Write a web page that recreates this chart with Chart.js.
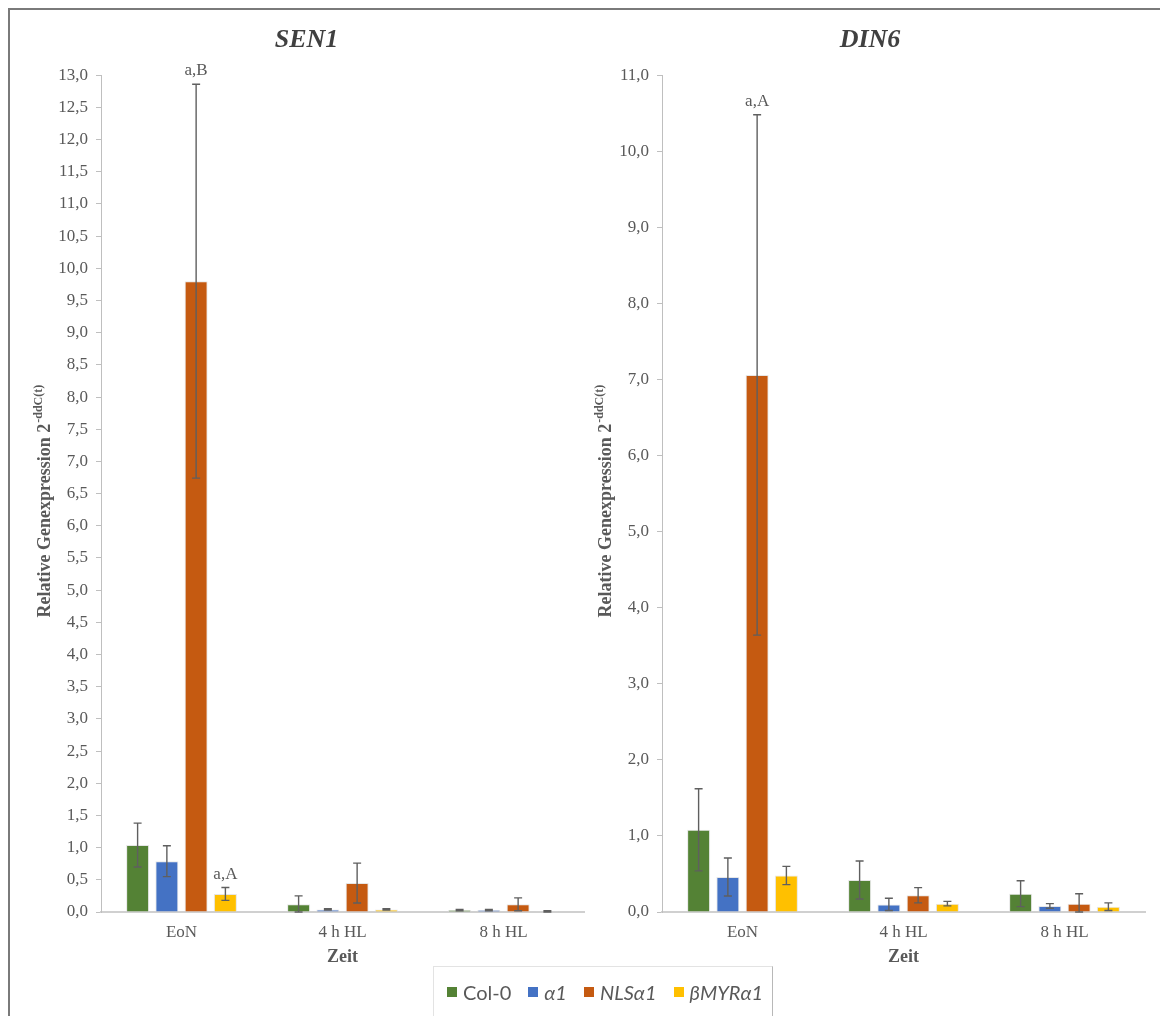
<!DOCTYPE html>
<html lang="de">
<head>
  <meta charset="UTF-8">
  <title>SEN1 / DIN6</title>
  <style>
    body {
      margin: 0;
      background: #fff;
      width: 1160px;
      height: 1016px;
      overflow: hidden;
      position: relative;
      font-family: 'Liberation Serif', serif;
    }

    /* marco exterior, cortado a la derecha y abajo */
    .frame {
      position: absolute;
      left: 8px;
      top: 8px;
      width: 1200px;
      height: 1100px;
      border: 2px solid #7a7a7a;
    }

    .chart-box {
      position: absolute;
      top: 10px;
      height: 970px;
    }

    #boxSen { left: 10px; width: 590px; }
    #boxDin { left: 575px; width: 585px; }

    .legend {
      position: absolute;
      left: 433px;
      top: 966px;
      width: 340px;
      height: 60px;
      border: 1px solid #e3e3e3;
      border-right-color: #b8b8b8;
      box-sizing: border-box;
      display: flex;
      align-items: flex-start;
      padding: 13px 0 0 13px;
      gap: 17px;
      font-family: Lato, 'Liberation Sans', sans-serif;
      font-size: 20px;
      color: #595959;
    }

    .legend span.item { display: flex; align-items: center; }
    .legend span.sw { width: 10px; height: 10px; margin-right: 6px; display: inline-block; }
  </style>
</head>

<body>
  <div class="frame"></div>
  <div class="chart-box" id="boxSen"><canvas id="senChart"></canvas></div>
  <div class="chart-box" id="boxDin"><canvas id="dinChart"></canvas></div>
  <div class="legend" id="legend"></div>

  <script src="https://cdn.jsdelivr.net/npm/chart.js@4"></script>
  <script>
    // ==== Datos ====
    const categories = ['EoN', '4 h HL', '8 h HL'];
    const seriesNames = ['Col-0', 'α1', 'NLSα1', 'βMYRα1'];
    const seriesItalic = [false, true, true, true];
    const seriesColors = ['#548235', '#4472C4', '#C55A11', '#FFC000'];

    // SEN1
    const sen1Col0 = [1.04, 0.12, 0.03];
    const sen1Alpha1 = [0.79, 0.04, 0.03];
    const sen1Nls = [9.80, 0.45, 0.12];
    const sen1Myr = [0.28, 0.04, 0.01];
    const sen1Col0Err = [0.34, 0.13, 0.01];
    const sen1Alpha1Err = [0.24, 0.01, 0.01];
    const sen1NlsErr = [3.06, 0.31, 0.10];
    const sen1MyrErr = [0.10, 0.01, 0.01];
    const sen1LetterText = ['a,B', 'a,A'];
    const sen1LetterSeries = [2, 3];
    const sen1LetterCat = [0, 0];

    // DIN6
    const din6Col0 = [1.08, 0.42, 0.24];
    const din6Alpha1 = [0.46, 0.10, 0.08];
    const din6Nls = [7.06, 0.22, 0.11];
    const din6Myr = [0.48, 0.11, 0.07];
    const din6Col0Err = [0.54, 0.25, 0.17];
    const din6Alpha1Err = [0.25, 0.08, 0.03];
    const din6NlsErr = [3.42, 0.10, 0.13];
    const din6MyrErr = [0.12, 0.03, 0.05];
    const din6LetterText = ['a,A'];
    const din6LetterSeries = [2];
    const din6LetterCat = [0];

    const textGray = '#595959';
    const serif = "'Liberation Serif', serif";

    // ==== Plugin: barras de error + letras ====
    const errorBarsPlugin = {
      id: 'errorBars',
      afterDatasetsDraw(chart, args, opts) {
        const ctx = chart.ctx;
        const y = chart.scales.y;
        ctx.save();
        ctx.strokeStyle = '#5f5f5f';
        ctx.lineWidth = 1.4;
        const tops = [];
        opts.errors.forEach((errs, i) => {
          tops[i] = [];
          const meta = chart.getDatasetMeta(i);
          meta.data.forEach((bar, j) => {
            const v = chart.data.datasets[i].data[j];
            const yt = y.getPixelForValue(v + errs[j]);
            const yb = y.getPixelForValue(Math.max(0, v - errs[j]));
            tops[i][j] = yt;
            ctx.beginPath();
            ctx.moveTo(bar.x, yt); ctx.lineTo(bar.x, yb);
            ctx.moveTo(bar.x - 4, yt); ctx.lineTo(bar.x + 4, yt);
            ctx.moveTo(bar.x - 4, yb); ctx.lineTo(bar.x + 4, yb);
            ctx.stroke();
          });
        });
        ctx.fillStyle = textGray;
        ctx.font = '17px ' + serif;
        ctx.textAlign = 'center';
        ctx.textBaseline = 'bottom';
        opts.letterText.forEach((t, k) => {
          const s = opts.letterSeries[k], c = opts.letterCat[k];
          const bar = chart.getDatasetMeta(s).data[c];
          ctx.fillText(t, bar.x, tops[s][c] - 5);
        });
        ctx.restore();
      }
    };

    // ==== Plugin: título del eje Y con superíndice ====
    const yTitlePlugin = {
      id: 'yTitle',
      afterDraw(chart) {
        const ctx = chart.ctx;
        const area = chart.chartArea;
        const cx = area.left - 56;
        const cy = (area.top + area.bottom) / 2 + 8;
        const main = 'Relative Genexpression 2';
        const sup = '-ddC(t)';
        ctx.save();
        ctx.fillStyle = textGray;
        ctx.font = 'bold 18px ' + serif;
        const w1 = ctx.measureText(main).width;
        ctx.font = 'bold 12px ' + serif;
        const w2 = ctx.measureText(sup).width;
        ctx.translate(cx, cy);
        ctx.rotate(-Math.PI / 2);
        ctx.textBaseline = 'middle';
        ctx.textAlign = 'left';
        const x0 = -(w1 + w2) / 2;
        ctx.font = 'bold 18px ' + serif;
        ctx.fillText(main, x0, 0);
        ctx.font = 'bold 12px ' + serif;
        ctx.fillText(sup, x0 + w1 + 1, -6);
        ctx.restore();
      }
    };

    function makeChart(id, title, values, errors, yMax, step, letters, pad, yWidth) {
      return new Chart(document.getElementById(id), {
        type: 'bar',
        data: {
          labels: categories,
          datasets: values.map((v, i) => ({
            label: seriesNames[i],
            data: v,
            backgroundColor: seriesColors[i],
            borderColor: 'rgba(220,220,220,0.7)',
            borderWidth: 1,
            categoryPercentage: 0.727,
            barPercentage: 0.785
          }))
        },
        options: {
          responsive: true,
          maintainAspectRatio: false,
          animation: false,
          layout: { padding: { left: pad[0], right: pad[1], top: 0, bottom: 0 } },
          plugins: {
            legend: { display: false },
            tooltip: { enabled: false },
            title: {
              display: true,
              text: title,
              color: '#404040',
              font: { family: serif, size: 26, weight: 'bold', style: 'italic' },
              padding: { top: 15, bottom: 19 }
            },
            errorBars: {
              errors: errors,
              letterText: letters[0],
              letterSeries: letters[1],
              letterCat: letters[2]
            }
          },
          scales: {
            x: {
              afterFit: s => { s.height = 68; },
              grid: { display: true, drawOnChartArea: false, drawTicks: false },
              border: { display: true, color: '#d0d0d0', width: 2 },
              ticks: { color: textGray, font: { family: serif, size: 17 }, padding: 10 },
              title: {
                display: true,
                text: 'Zeit',
                color: textGray,
                font: { family: serif, size: 18, weight: 'bold' },
                padding: { top: 0, bottom: 12 }
              }
            },
            y: {
              min: 0,
              max: yMax,
              afterFit: s => { s.width = yWidth; },
              grid: { display: true, drawOnChartArea: false, drawTicks: true, tickLength: 5, color: '#bfbfbf' },
              border: { display: true, color: '#bfbfbf', width: 1 },
              ticks: {
                stepSize: step,
                autoSkip: false,
                padding: 8,
                color: textGray,
                font: { family: serif, size: 17 },
                callback: v => v.toFixed(1).replace('.', ',')
              }
            }
          }
        },
        plugins: [errorBarsPlugin, yTitlePlugin]
      });
    }

    makeChart('senChart', 'SEN1',
      [sen1Col0, sen1Alpha1, sen1Nls, sen1Myr],
      [sen1Col0Err, sen1Alpha1Err, sen1NlsErr, sen1MyrErr],
      13, 0.5, [sen1LetterText, sen1LetterSeries, sen1LetterCat], [19, 16], 72);

    makeChart('dinChart', 'DIN6',
      [din6Col0, din6Alpha1, din6Nls, din6Myr],
      [din6Col0Err, din6Alpha1Err, din6NlsErr, din6MyrErr],
      11, 1, [din6LetterText, din6LetterSeries, din6LetterCat], [20, 15], 67);

    // ==== Leyenda ====
    const legend = document.getElementById('legend');
    seriesNames.forEach((name, i) => {
      const item = document.createElement('span');
      item.className = 'item';
      const sw = document.createElement('span');
      sw.className = 'sw';
      sw.style.background = seriesColors[i];
      const txt = document.createElement('span');
      txt.textContent = name;
      if (seriesItalic[i]) txt.style.fontStyle = 'italic';
      item.appendChild(sw);
      item.appendChild(txt);
      legend.appendChild(item);
    });
  </script>
</body>

</html>
